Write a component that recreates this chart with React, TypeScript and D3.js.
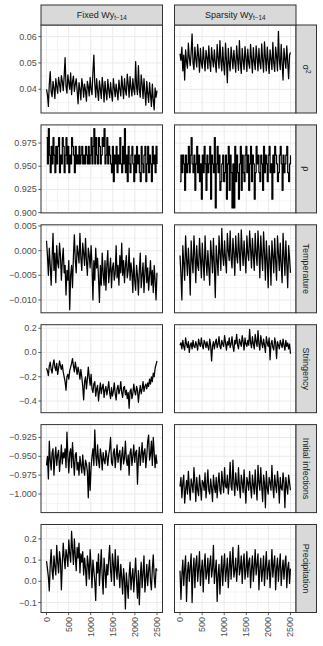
import React from "react";
import * as d3 from "d3";

// ---------- data ----------
const iterMax = 2500;
const xTicks = [0, 500, 1000, 1500, 2000, 2500];
const columnNames = ["Fixed Wy", "Sparsity Wy"];
const columnSub = "t\u221214";
const rowNames = ["σ2", "ρ", "Temperature", "Stringency", "Initial infections", "Precipitation"];

const sigmaTicks = [0.04, 0.05, 0.06];
const rhoTicks = [0.9, 0.925, 0.95, 0.975];
const tempTicks = [-0.01, -0.005, 0.0, 0.005];
const stringTicks = [-0.4, -0.2, 0.0, 0.2];
const initTicks = [-1.0, -0.975, -0.95, -0.925];
const precipTicks = [-0.1, 0.0, 0.1, 0.2];

const sigmaDomain = [0.031, 0.0644];
const rhoDomain = [0.8997, 0.9946];
const tempDomain = [-0.0126, 0.00524];
const stringDomain = [-0.496, 0.229];
const initDomain = [-1.0246, -0.908];
const precipDomain = [-0.147, 0.268];

const sigmaFixed = [
  0.04, 0.038, 0.0335, 0.042, 0.0467, 0.039, 0.0372, 0.043, 0.0405, 0.0365, 0.044, 0.041,
  0.0385, 0.0445, 0.042, 0.039, 0.0452, 0.043, 0.0395, 0.0448, 0.052, 0.041, 0.0385, 0.0455,
  0.0425, 0.04, 0.0462, 0.038, 0.043, 0.045, 0.0392, 0.042, 0.044, 0.0395, 0.0345, 0.0425,
  0.04, 0.036, 0.044, 0.0415, 0.037, 0.042, 0.0395, 0.0355, 0.043, 0.041, 0.0375, 0.0445,
  0.04, 0.038, 0.0465, 0.053, 0.042, 0.037, 0.044, 0.0395, 0.0358, 0.0432, 0.04, 0.0365,
  0.0445, 0.041, 0.0352, 0.043, 0.039, 0.036, 0.0438, 0.04, 0.0368, 0.0425, 0.0385, 0.0355,
  0.044, 0.0405, 0.0372, 0.042, 0.039, 0.036, 0.0435, 0.04, 0.0375, 0.045, 0.041, 0.0365,
  0.044, 0.0395, 0.0378, 0.0458, 0.042, 0.037, 0.0448, 0.0405, 0.0375, 0.044, 0.04, 0.038,
  0.0505, 0.041, 0.038, 0.049, 0.04, 0.037, 0.0455, 0.042, 0.0365, 0.044, 0.039, 0.034,
  0.043, 0.0385, 0.035, 0.0425, 0.038, 0.0335, 0.042, 0.036, 0.0322, 0.0405, 0.037, 0.0395,
];
const sigmaSparsity = [
  0.0535, 0.051, 0.056, 0.047, 0.053, 0.0435, 0.055, 0.0505, 0.048, 0.0575, 0.052, 0.049,
  0.054, 0.061, 0.05, 0.0475, 0.056, 0.0515, 0.0485, 0.057, 0.0525, 0.0465, 0.0555, 0.05,
  0.048, 0.056, 0.051, 0.047, 0.0548, 0.052, 0.0478, 0.0565, 0.0505, 0.0468, 0.0558, 0.0515,
  0.0485, 0.055, 0.05, 0.0465, 0.057, 0.052, 0.048, 0.0585, 0.051, 0.047, 0.056, 0.0495,
  0.0455, 0.0575, 0.051, 0.0425, 0.0555, 0.05, 0.047, 0.056, 0.052, 0.0478, 0.0548, 0.0505,
  0.0465, 0.0565, 0.0515, 0.0472, 0.0585, 0.05, 0.046, 0.0555, 0.051, 0.0475, 0.0562, 0.052,
  0.0468, 0.0552, 0.05, 0.048, 0.057, 0.0515, 0.0462, 0.0558, 0.0505, 0.0475, 0.0565, 0.052,
  0.047, 0.0555, 0.05, 0.0478, 0.0572, 0.051, 0.0465, 0.058, 0.052, 0.047, 0.056, 0.0505,
  0.046, 0.055, 0.0515, 0.0475, 0.0578, 0.05, 0.0468, 0.056, 0.0525, 0.047, 0.062, 0.051,
  0.0475, 0.057, 0.05, 0.0435, 0.0555, 0.0515, 0.048, 0.0565, 0.0505, 0.044, 0.053, 0.054,
];
const rhoFixed = [
  0.981, 0.9525, 0.9905, 0.962, 0.943, 0.9715, 0.9525, 0.981, 0.962, 0.943, 0.9715, 0.9525,
  0.9715, 0.981, 0.943, 0.962, 0.9525, 0.981, 0.9715, 0.943, 0.962, 0.981, 0.9525, 0.9715, 0.943,
  0.962, 0.9525, 0.981, 0.9715, 0.962, 0.943, 0.9715, 0.9525,
  0.962, 0.9525, 0.9715, 0.9525, 0.962, 0.9715, 0.9525, 0.962, 0.9525, 0.9715, 0.962, 0.9525,
  0.9715, 0.9525, 0.962,
  0.981, 0.9525, 0.9715, 0.9905, 0.9525, 0.981, 0.962, 0.9525, 0.981, 0.9715, 0.9525, 0.962,
  0.981, 0.9715, 0.9905, 0.9525, 0.962, 0.981, 0.9525, 0.9715, 0.962, 0.9525,
  0.943, 0.9715, 0.9335, 0.962, 0.9525, 0.9715, 0.943, 0.962, 0.9525, 0.981, 0.9525, 0.943,
  0.9715, 0.9525, 0.9905, 0.943, 0.962, 0.9335, 0.9715, 0.9525, 0.943, 0.962, 0.9715, 0.9525,
  0.9335, 0.962, 0.943, 0.9715, 0.9525, 0.962, 0.943, 0.9335, 0.9715, 0.9525, 0.943, 0.962,
  0.9715, 0.9335, 0.9525, 0.9715, 0.943, 0.962, 0.9525, 0.9335, 0.9715, 0.9525, 0.962, 0.943,
  0.9715, 0.9525,
];
const rhoSparsity = [
  0.9335, 0.962, 0.943, 0.962, 0.9525, 0.924, 0.962, 0.943, 0.9525, 0.9715, 0.943, 0.962, 0.981,
  0.9525, 0.943, 0.962, 0.924, 0.9525, 0.9715, 0.943, 0.962, 0.9335, 0.9525, 0.9145, 0.962, 0.943,
  0.9715, 0.9525, 0.924, 0.962, 0.943, 0.9525, 0.9715, 0.9145, 0.962, 0.9525, 0.943, 0.981, 0.905,
  0.9525,
  0.9715, 0.943, 0.962, 0.924, 0.9335, 0.9525, 0.962, 0.9335, 0.943, 0.962, 0.9145, 0.9525, 0.9715,
  0.924, 0.962, 0.943, 0.905, 0.9525, 0.905, 0.9715, 0.9335, 0.962, 0.943, 0.9145, 0.9525, 0.9715,
  0.924, 0.962, 0.943, 0.9335, 0.962, 0.9715, 0.943, 0.962, 0.924, 0.9525, 0.9715, 0.9335, 0.962,
  0.9525,
  0.9145, 0.943, 0.9715, 0.9525, 0.962, 0.943, 0.9335, 0.962, 0.9525, 0.924, 0.9715, 0.943, 0.962,
  0.9525, 0.9335, 0.962, 0.9715, 0.943, 0.9525, 0.9145, 0.962, 0.943, 0.9715, 0.962, 0.9525, 0.9335,
  0.943, 0.962, 0.9715, 0.9525, 0.924, 0.962, 0.943, 0.9525, 0.962, 0.9715, 0.943, 0.9335, 0.9525,
  0.962,
];
const tempFixed = [
  0.002, -0.001, -0.005, 0.0005, -0.003, -0.007, -0.0015, 0.0035, -0.004, -0.0005, -0.0065, 0.001,
  -0.0025, -0.0035, 0.0015, -0.001, -0.006, -0.002, 0.0005, -0.0045,
  -0.003, -0.009, -0.004, -0.006, -0.002, -0.012, -0.005, -0.003, -0.0075, -0.001, 0.0032, -0.002,
  -0.0045, 0.001, -0.0005, -0.0025, 0.0035, -0.0015, -0.004, 0.0015,
  -0.0005, -0.003, 0.0025, -0.002, -0.005, 0.0005, -0.001, -0.0035, 0.001, -0.003, -0.01, -0.002,
  -0.006, 0.0005, -0.0035, -0.0015, -0.0055, -0.0105, -0.003, -0.007,
  -0.0005, -0.0045, -0.007, -0.002, -0.008, -0.003, 0.0, -0.0065, -0.004, -0.0015, -0.0075, -0.0035,
  -0.0025, -0.006, -0.0045, 0.001, -0.0055, -0.003, -0.007, -0.001,
  -0.0045, 0.0015, -0.005, -0.002, -0.0065, -0.003, -0.001, -0.0055, -0.004, 0.0005, -0.006, -0.0025,
  -0.0045, -0.0085, -0.0015, -0.006, -0.008, -0.003, -0.005, -0.009,
  -0.004, -0.0005, -0.0075, -0.005, -0.0025, -0.0085, -0.0045, -0.001, -0.0065, -0.0035, -0.008,
  -0.005, -0.002, -0.007, -0.004, -0.0085, -0.003, -0.006, -0.01, -0.0045,
];
const tempSparsity = [
  -0.001, -0.005, -0.01, 0.001, -0.0025, -0.006, 0.003, -0.0015, -0.005, 0.0005, -0.003, -0.009,
  0.002, -0.002, -0.0045, 0.003, -0.001, -0.0065, 0.001, -0.003,
  -0.004, 0.0025, -0.0015, -0.0055, 0.0015, -0.0025, -0.006, 0.003, -0.002, -0.005, 0.0, -0.0035,
  -0.007, 0.002, -0.001, -0.0045, 0.0025, -0.003, -0.0095, 0.001,
  -0.002, -0.005, 0.003, -0.0005, -0.004, 0.0045, -0.001, -0.003, 0.002, -0.002, -0.0045, 0.0035,
  0.0, -0.002, 0.004, -0.0015, -0.0035, 0.0025, -0.0005, -0.005,
  0.003, -0.001, -0.0025, 0.0035, -0.0005, -0.004, 0.0042, 0.0, -0.003, 0.002, -0.0015, -0.0045,
  0.003, -0.0005, -0.002, 0.004, 0.0005, -0.0035, 0.0025, -0.001,
  -0.004, 0.0035, -0.0005, -0.003, 0.004, 0.0, -0.0055, 0.003, -0.001, -0.004, 0.0038, -0.0005,
  -0.006, 0.002, -0.002, -0.0075, 0.001, -0.0015, -0.007, 0.002,
  -0.001, -0.0045, 0.0025, -0.002, -0.006, 0.003, -0.0005, -0.004, 0.0015, -0.003, -0.0065, 0.0035,
  -0.001, -0.005, 0.002, -0.0025, -0.0075, 0.001, -0.0015, -0.0045,
];
const stringFixed = [
  -0.13, -0.15, -0.19, -0.11, -0.08, -0.14, -0.17, -0.1, -0.06, -0.12, -0.15, -0.09, -0.18, -0.13,
  -0.07, -0.11, -0.14, -0.1, -0.16, -0.2,
  -0.24, -0.31, -0.2, -0.18, -0.22, -0.15, -0.12, -0.09, -0.05, -0.11, -0.16, -0.08, -0.13, -0.18,
  -0.12, -0.16, -0.22, -0.14, -0.2, -0.28,
  -0.39, -0.24, -0.2, -0.3, -0.22, -0.12, -0.2, -0.27, -0.18, -0.3, -0.33, -0.26, -0.24, -0.36,
  -0.3, -0.27, -0.4, -0.32, -0.25, -0.34,
  -0.29, -0.26, -0.37, -0.31, -0.28, -0.35, -0.3, -0.24, -0.33, -0.38, -0.29, -0.36, -0.32, -0.25,
  -0.34, -0.39, -0.3, -0.27, -0.34, -0.31,
  -0.24, -0.33, -0.37, -0.29, -0.28, -0.35, -0.31, -0.38, -0.33, -0.46, -0.32, -0.3, -0.38, -0.34,
  -0.26, -0.32, -0.35, -0.28, -0.31, -0.41,
  -0.33, -0.27, -0.34, -0.3, -0.24, -0.32, -0.28, -0.26, -0.3, -0.25, -0.28, -0.22, -0.26, -0.2,
  -0.24, -0.17, -0.2, -0.13, -0.1, -0.07,
];
const stringSparsity = [
  0.06, 0.08, 0.03, 0.1, 0.05, 0.02, 0.12, 0.07, 0.04, 0.09, 0.0, 0.06, 0.08, 0.03, 0.1, 0.05, 0.04,
  0.09, 0.06, 0.02,
  0.11, 0.07, 0.05, 0.12, 0.06, 0.03, 0.1, 0.08, 0.04, 0.09, 0.05, 0.02, 0.11, 0.06, -0.07, 0.05,
  0.09, 0.03, 0.08, 0.11,
  0.04, 0.07, 0.13, 0.05, 0.03, 0.1, 0.07, 0.05, 0.14, 0.08, 0.02, 0.09, 0.06, 0.12, 0.04, 0.07,
  0.13, 0.05, 0.01, 0.1,
  0.07, 0.15, 0.06, 0.03, 0.11, 0.08, 0.05, 0.14, 0.09, 0.02, 0.12, 0.07, 0.05, 0.1, 0.06, 0.19,
  0.08, 0.04, 0.13, 0.07,
  0.03, 0.15, 0.09, 0.05, 0.18, 0.07, 0.02, 0.14, 0.08, 0.04, 0.11, 0.06, 0.0, 0.13, 0.08, 0.05,
  0.12, -0.06, 0.07, 0.1,
  0.04, 0.02, 0.12, 0.08, -0.05, 0.09, 0.06, 0.03, 0.1, 0.07, 0.04, 0.11, 0.06, 0.02, 0.1, 0.05,
  0.08, 0.03, 0.07, -0.01,
];
const initFixed = [
  -0.962, -0.95, -0.98, -0.93, -0.955, -0.968, -0.945, -0.94, -0.975, -0.952, -0.938, -0.962, -0.948,
  -0.942, -0.97, -0.955, -0.935, -0.96, -0.945, -0.952,
  -0.94, -0.965, -0.918, -0.95, -0.972, -0.945, -0.94, -0.965, -0.932, -0.955, -0.975, -0.948,
  -0.945, -0.968, -0.958, -0.975, -0.95, -0.962, -0.972, -0.948,
  -0.965, -0.975, -0.955, -0.96, -0.97, -1.005, -0.958, -0.995, -0.965, -0.95, -0.94, -0.962,
  -0.915, -0.948, -0.962, -0.935, -0.955, -0.965, -0.94, -0.95,
  -0.968, -0.945, -0.955, -0.96, -0.942, -0.95, -0.962, -0.948, -0.94, -0.925, -0.958, -0.962,
  -0.945, -0.94, -0.965, -0.95, -0.935, -0.958, -0.948, -0.942,
  -0.968, -0.95, -0.938, -0.96, -0.952, -0.93, -0.955, -0.962, -0.948, -0.975, -0.945, -0.94,
  -0.962, -0.95, -0.935, -0.958, -0.945, -0.942, -0.987, -0.952,
  -0.938, -0.962, -0.948, -0.932, -0.958, -0.945, -0.94, -0.965, -0.95, -0.93, -0.922, -0.955,
  -0.948, -0.93, -0.962, -0.925, -0.945, -0.965, -0.948, -0.96,
];
const initSparsity = [
  -0.99, -0.978, -1.005, -0.985, -0.975, -1.012, -0.995, -0.982, -1.0, -0.97, -0.992, -1.008, -0.98,
  -0.988, -0.998, -0.965, -0.985, -1.01, -0.978, -0.995,
  -1.002, -0.975, -0.99, -1.008, -0.982, -0.985, -0.995, -0.972, -1.005, -0.988, -0.968, -0.995,
  -1.0, -0.98, -0.992, -1.01, -0.975, -0.99, -0.998, -0.978,
  -1.005, -0.985, -0.972, -0.995, -1.0, -0.97, -0.985, -0.998, -0.965, -0.99, -0.992, -0.975, -1.0,
  -0.985, -0.958, -0.99, -0.995, -0.955, -0.985, -1.002,
  -0.972, -0.988, -0.995, -0.965, -0.99, -1.005, -0.975, -0.985, -0.998, -0.968, -0.992, -1.012,
  -0.978, -0.985, -0.995, -0.97, -0.99, -1.005, -0.975, -0.988,
  -1.0, -0.968, -0.992, -1.008, -0.962, -0.985, -0.995, -0.965, -0.99, -1.01, -0.975, -0.985,
  -1.018, -0.97, -0.992, -1.0, -0.978, -0.985, -0.995, -0.962,
  -0.99, -1.005, -0.975, -0.988, -0.998, -0.97, -0.985, -1.012, -0.978, -0.992, -0.995, -0.972,
  -0.985, -1.018, -0.978, -0.99, -1.0, -0.975, -0.985, -0.995,
];
const precipFixed = [
  0.095, 0.06, 0.02, -0.045, 0.08, 0.15, 0.05, 0.01, 0.12, 0.07, 0.03, 0.17, 0.09, 0.04, 0.14, 0.1,
  -0.04, 0.08, 0.18, 0.11,
  0.06, 0.15, 0.12, 0.07, 0.195, 0.13, 0.09, 0.235, 0.15, 0.08, 0.2, 0.12, 0.05, 0.16, 0.11, 0.18,
  0.04, 0.13, 0.09, 0.14,
  0.03, 0.11, 0.06, -0.02, 0.12, 0.08, 0.01, 0.15, 0.07, -0.03, 0.1, 0.05, 0.0, -0.09, 0.09, 0.04,
  0.13, -0.02, 0.06, 0.15,
  0.02, -0.06, 0.11, 0.05, -0.03, 0.08, 0.03, 0.1, 0.17, 0.05, 0.0, 0.13, 0.08, -0.02, 0.15, 0.06,
  0.01, 0.12, 0.04, -0.03,
  0.08, 0.02, -0.06, 0.06, 0.01, -0.13, 0.04, -0.02, -0.08, 0.03, 0.09, -0.04, 0.02, 0.06, -0.05,
  0.03, 0.11, 0.0, -0.08, 0.05,
  -0.11, 0.02, 0.09, -0.03, 0.04, 0.12, -0.05, 0.01, 0.08, -0.02, 0.05, 0.1, 0.0, -0.04, 0.06,
  0.125, 0.02, -0.03, 0.06, 0.05,
];
const precipSparsity = [
  0.05, -0.085, 0.03, 0.1, -0.02, 0.06, 0.12, -0.095, 0.04, 0.09, 0.0, 0.07, 0.13, -0.1, 0.05, 0.11,
  -0.03, 0.08, 0.12, 0.0,
  0.06, 0.14, -0.02, 0.05, 0.1, -0.05, 0.07, 0.13, 0.01, 0.04, 0.11, -0.01, 0.08, 0.12, 0.02, 0.06,
  0.17, -0.01, 0.05, 0.1,
  -0.095, 0.03, 0.08, -0.06, 0.04, 0.12, -0.02, 0.07, 0.13, 0.0, 0.05, 0.11, -0.03, 0.06, 0.14,
  0.01, 0.08, 0.16, 0.02, 0.05,
  0.11, 0.0, 0.07, 0.17, 0.03, 0.06, 0.12, -0.01, 0.08, 0.13, 0.01, 0.05, 0.14, 0.02, 0.09, 0.11,
  -0.03, 0.06, 0.12, 0.0,
  0.07, 0.15, 0.03, 0.08, 0.13, -0.04, 0.06, 0.11, 0.0, 0.05, 0.12, -0.02, 0.07, 0.14, 0.01, 0.06,
  0.1, -0.03, 0.05, 0.15,
  0.02, 0.08, 0.12, -0.04, 0.06, 0.11, 0.0, 0.07, 0.13, -0.02, 0.05, 0.1, 0.01, 0.08, 0.12, -0.03,
  0.06, 0.09, -0.01, 0.06,
];

const rowSeries = [
  [sigmaFixed, sigmaSparsity],
  [rhoFixed, rhoSparsity],
  [tempFixed, tempSparsity],
  [stringFixed, stringSparsity],
  [initFixed, initSparsity],
  [precipFixed, precipSparsity],
];
const rowTicks = [sigmaTicks, rhoTicks, tempTicks, stringTicks, initTicks, precipTicks];
const rowDomains = [sigmaDomain, rhoDomain, tempDomain, stringDomain, initDomain, precipDomain];
const rowFormats = [".2f", ".3f", ".3f", ".1f", ".3f", ".1f"];

// ---------- layout ----------
const W = 323;
const H = 646;
const colX = [41, 174.5];
const panelW = 121.5;
const stripTop = 5;
const stripH = 20;
const panelTop = 25;
const panelH = 88;
const rowStep = 99.9;
const rightStripW = 20.5;
const FONT = "'Liberation Sans', Arial, Helvetica, sans-serif";
const FS = 9;

function minorBreaks(ticks: number[], domain: number[]) {
  const step = ticks[1] - ticks[0];
  const out: number[] = [];
  for (let i = -1; i < ticks.length; i++) {
    const v = ticks[0] + (i + 0.5) * step;
    if (v >= domain[0] && v <= domain[1]) out.push(v);
  }
  return out;
}

const fmtMinus = (s: string) => s.replace("-", "\u2212");

export default function App() {
  const xMinor = minorBreaks(xTicks, [-125, 2625]);
  const panels: React.ReactNode[] = [];

  rowNames.forEach((rowName, r) => {
    const y0 = panelTop + r * rowStep;
    const y = d3.scaleLinear().domain(rowDomains[r]).range([y0 + panelH, y0]);
    const ticks = rowTicks[r];
    const yMinor = minorBreaks(ticks, rowDomains[r]);
    const fmt = d3.format(rowFormats[r]);

    [0, 1].forEach((c) => {
      const x0 = colX[c];
      const x = d3.scaleLinear().domain([-125, 2625]).range([x0, x0 + panelW]);
      const values = rowSeries[r][c];
      const n = values.length;
      const line = d3
        .line<number>()
        .x((_, i) => x((i / (n - 1)) * iterMax))
        .y((v) => y(v))
        .curve(r === 1 ? d3.curveStepAfter : d3.curveLinear);

      panels.push(
        <g key={`p${r}${c}`}>
          <rect x={x0} y={y0} width={panelW} height={panelH} fill="#FFFFFF" />
          {xMinor.map((t) => (
            <line key={`xm${t}`} x1={x(t)} x2={x(t)} y1={y0} y2={y0 + panelH} stroke="#EBEBEB" strokeWidth={0.5} />
          ))}
          {yMinor.map((t) => (
            <line key={`ym${t}`} x1={x0} x2={x0 + panelW} y1={y(t)} y2={y(t)} stroke="#EBEBEB" strokeWidth={0.5} />
          ))}
          {xTicks.map((t) => (
            <line key={`xg${t}`} x1={x(t)} x2={x(t)} y1={y0} y2={y0 + panelH} stroke="#EBEBEB" strokeWidth={1} />
          ))}
          {ticks.map((t) => (
            <line key={`yg${t}`} x1={x0} x2={x0 + panelW} y1={y(t)} y2={y(t)} stroke="#EBEBEB" strokeWidth={1} />
          ))}
          <path d={line(values) || ""} fill="none" stroke="#000000" strokeWidth={1.25} strokeLinejoin="round" />
          <rect x={x0} y={y0} width={panelW} height={panelH} fill="none" stroke="#333333" strokeWidth={1} />
          {c === 0 &&
            ticks.map((t) => (
              <g key={`yt${t}`}>
                <line x1={x0 - 2.7} x2={x0} y1={y(t)} y2={y(t)} stroke="#333333" strokeWidth={0.8} />
                <text
                  x={x0 - 4.3}
                  y={y(t)}
                  textAnchor="end"
                  dominantBaseline="central"
                  fontSize={FS}
                  fill="#4D4D4D"
                  fontFamily={FONT}
                >
                  {fmtMinus(fmt(t))}
                </text>
              </g>
            ))}
          {r === rowNames.length - 1 &&
            xTicks.map((t) => (
              <g key={`xt${t}`}>
                <line x1={x(t)} x2={x(t)} y1={y0 + panelH} y2={y0 + panelH + 2.7} stroke="#333333" strokeWidth={0.8} />
                <text
                  transform={`translate(${x(t)},${y0 + panelH + 4.5}) rotate(-90)`}
                  textAnchor="end"
                  dominantBaseline="central"
                  fontSize={FS}
                  fill="#4D4D4D"
                  fontFamily={FONT}
                >
                  {t}
                </text>
              </g>
            ))}
        </g>
      );
    });

    // right strip
    const sx = colX[1] + panelW;
    const cy = y0 + panelH / 2;
    panels.push(
      <g key={`rs${r}`}>
        <rect x={sx} y={y0} width={rightStripW} height={panelH} fill="#D9D9D9" stroke="#333333" strokeWidth={1} />
        <text
          transform={`translate(${sx + rightStripW / 2},${cy}) rotate(90)`}
          textAnchor="middle"
          dominantBaseline="central"
          fontSize={FS}
          fill="#1A1A1A"
          fontFamily={FONT}
        >
          {r === 0 ? (
            <>
              σ
              <tspan fontSize={6.3} dy={-3.2}>
                2
              </tspan>
            </>
          ) : (
            rowName
          )}
        </text>
      </g>
    );
  });

  // top strips
  const topStrips = columnNames.map((name, c) => (
    <g key={`ts${c}`}>
      <rect x={colX[c]} y={stripTop} width={panelW} height={stripH} fill="#D9D9D9" stroke="#333333" strokeWidth={1} />
      <text
        x={colX[c] + panelW / 2}
        y={stripTop + stripH / 2}
        textAnchor="middle"
        dominantBaseline="central"
        fontSize={FS}
        fill="#1A1A1A"
        fontFamily={FONT}
      >
        {name}
        <tspan fontSize={6.3} dy={2}>
          {columnSub}
        </tspan>
      </text>
    </g>
  ));

  return (
    <svg
      width={W}
      height={H}
      viewBox={`0 0 ${W} ${H}`}
      style={{ position: "absolute", left: 0, top: 0, background: "#FFFFFF" }}
    >
      <rect x={0} y={0} width={W} height={H} fill="#FFFFFF" />
      {panels}
      {topStrips}
    </svg>
  );
}
